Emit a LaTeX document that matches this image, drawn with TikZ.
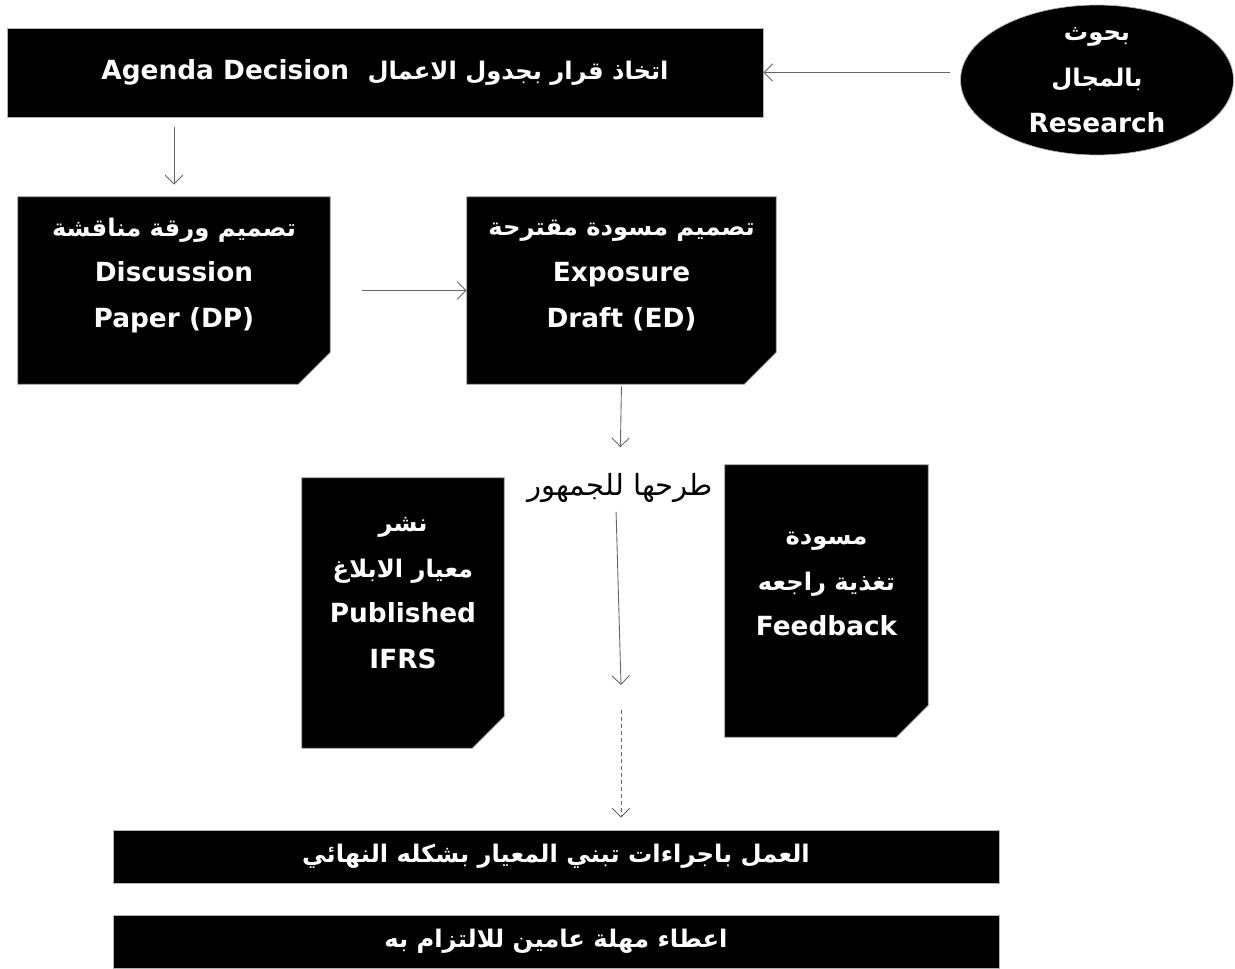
\documentclass[tikz,border=0pt]{standalone}
\usepackage{fontspec}
\setmainfont{DejaVu Sans}
\newfontfamily\arabicfont[Script=Arabic, Scale=0.92]{DejaVu Sans}
\TeXXeTstate=1
\usetikzlibrary{shapes.geometric, arrows.meta, positioning}
\newcommand{\artxt}[1]{{\arabicfont\beginR #1\endR}}
\tikzset{
  darkbox/.style={draw=gray!60, fill=black, text=white, inner sep=2pt, align=center, font=\bfseries\fontsize{15}{26}\selectfont},
  boxtext/.style={text=white, inner sep=0pt, align=center, font=\bfseries\fontsize{15}{26}\selectfont},
  snipframe/.style={rectangle, inner sep=0pt},
  snipfill/.style={draw=gray!60, fill=black},
  barbox/.style={darkbox, rectangle, inner sep=0pt, font=\bfseries\fontsize{15}{20}\selectfont},
  flowarrow/.style={draw=gray!80!black, line width=0.5pt, -{Straight Barb[length=5pt,width=10pt]}}
}

\begin{document}
\begin{tikzpicture}[x=0.02cm, y=-0.02cm]
            \useasboundingbox (0,0) rectangle (1235,969);
            \node[barbox, minimum width=15.12cm, minimum height=1.78cm] (agenda) at (385,72.5) {Agenda Decision\ \ \artxt{اتخاذ قرار بجدول الاعمال}};
            \node[darkbox, ellipse, minimum width=5.46cm, minimum height=3cm] (res) at (1097,80) {};
            \node[boxtext] at (res.center) {\artxt{بحوث}\\\artxt{بالمجال}\\Research};
            \node[snipframe, minimum width=6.24cm, minimum height=3.74cm] (dp) at (174,290.5) {};
            \node[snipframe, minimum width=6.18cm, minimum height=3.74cm] (ed) at (621.5,290.5) {};
            \node[snipframe, minimum width=4.04cm, minimum height=5.4cm] (ifrs) at (403,613) {};
            \node[snipframe, minimum width=4.06cm, minimum height=5.44cm] (fb) at (826.5,601) {};
            \foreach \n in {dp,ed,ifrs,fb}
              \filldraw[snipfill] (\n.north west) -- (\n.north east) -- ([yshift=0.64cm]\n.south east) -- ([xshift=-0.64cm]\n.south east) -- (\n.south west) -- cycle;
            \node[boxtext] at ([yshift=0.3cm]dp.center) {\artxt{تصميم ورقة مناقشة}\\Discussion\\Paper (DP)};
            \node[boxtext] at ([yshift=0.3cm]ed.center) {\artxt{تصميم مسودة مقترحة}\\Exposure\\Draft (ED)};
            \node[boxtext] at ([yshift=0.4cm]ifrs.center) {\artxt{نشر}\\\artxt{معيار الابلاغ}\\Published\\IFRS};
            \node[boxtext] at ([yshift=0.34cm]fb.center) {\artxt{مسودة}\\\artxt{تغذية راجعه}\\Feedback};
            \node[font=\fontsize{18}{20}\selectfont] (publ) at (620,488) {\artxt{طرحها للجمهور}};
            \node[barbox, minimum width=17.72cm, minimum height=1.06cm] (fin) at (556,856.5) {\artxt{العمل باجراءات تبني المعيار بشكله النهائي}};
            \node[barbox, minimum width=17.72cm, minimum height=1.06cm] (grace) at (556,941.5) {\artxt{اعطاء مهلة عامين للالتزام به}};
            \coordinate (endline) at (621,685);
            \coordinate (dashstart) at (621,710);
            \draw[flowarrow, shorten <=0.2cm] (res.west |- agenda.east) -- (agenda.east);
            \draw[flowarrow, shorten <=0.2cm, shorten >=0.24cm] (agenda.south -| dp.north) -- (dp.north);
            \draw[flowarrow, shorten <=0.64cm] (dp.east) -- (ed.west);
            \draw[flowarrow, shorten <=0.04cm, shorten >=0.4cm] (ed.south) -- (publ.north);
            \draw[flowarrow, shorten <=0.06cm] ([xshift=-0.08cm]publ.south) -- (endline);
            \draw[flowarrow, dash pattern=on 2pt off 2pt, shorten >=0.24cm] (dashstart) -- (dashstart |- fin.north);
        \end{tikzpicture}
\end{document}
